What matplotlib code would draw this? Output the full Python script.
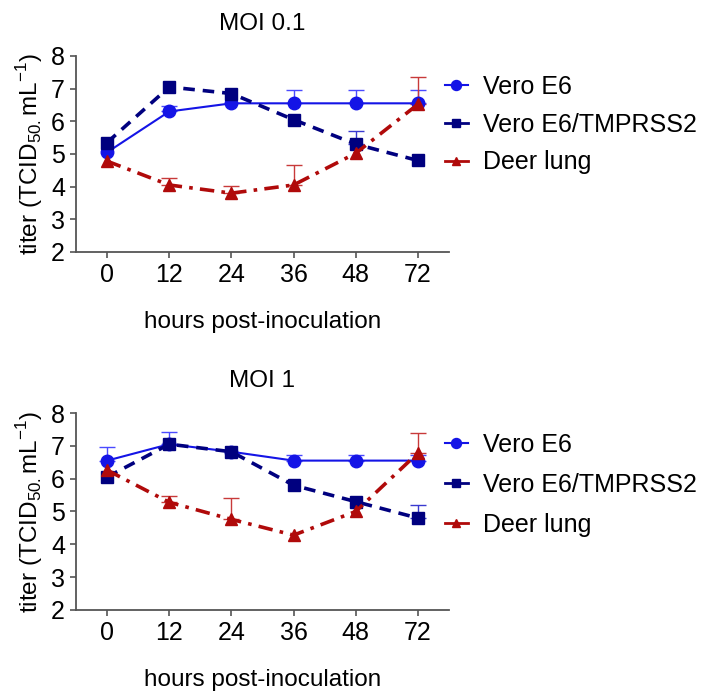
import matplotlib
matplotlib.use("Agg")
import matplotlib.pyplot as plt
from matplotlib.lines import Line2D
import numpy as np

plt.rcParams["font.family"] = ["Liberation Sans", "DejaVu Sans"]
plt.rcParams["mathtext.fontset"] = "custom"
plt.rcParams["mathtext.rm"] = "Liberation Sans"

hours = ["0", "12", "24", "36", "48", "72"]
series_names = ["Vero E6", "Vero E6/TMPRSS2", "Deer lung"]

# MOI 0.1: means and upper error (SD)
moi01_vero = [5.05, 6.30, 6.55, 6.55, 6.55, 6.55]
moi01_vero_err = [0.0, 0.18, 0.0, 0.42, 0.42, 0.42]
moi01_tmprss2 = [5.35, 7.05, 6.85, 6.05, 5.30, 4.80]
moi01_tmprss2_err = [0.0, 0.0, 0.0, 0.0, 0.41, 0.0]
moi01_deer = [4.78, 4.05, 3.80, 4.05, 5.02, 6.52]
moi01_deer_err = [0.0, 0.22, 0.22, 0.62, 0.0, 0.85]

# MOI 1
moi1_vero = [6.55, 7.05, 6.82, 6.55, 6.55, 6.55]
moi1_vero_err = [0.40, 0.38, 0.0, 0.18, 0.18, 0.18]
moi1_tmprss2 = [6.05, 7.05, 6.82, 5.80, 5.30, 4.80]
moi1_tmprss2_err = [0.0, 0.0, 0.0, 0.0, 0.0, 0.40]
moi1_deer = [6.26, 5.28, 4.76, 4.28, 5.00, 6.78]
moi1_deer_err = [0.0, 0.20, 0.64, 0.0, 0.0, 0.62]

styles = [
    dict(color="#1414e6", ecolor="#4a4aff", marker="o", ls="-", lw=1.5, ms=9),
    dict(color="#00007f", ecolor="#3a3ad0", marker="s", ls=(0, (3.2, 2.2)), lw=2.6, ms=8),
    dict(color="#b00a0a", ecolor="#c83a3a", marker="^", ls=(0, (4.0, 2.0, 1.0, 2.0)), lw=2.6, ms=8),
]

fig = plt.figure(figsize=(7.09, 6.96), dpi=100)
panels = [
    ("MOI 0.1", [0.1072, 0.638, 0.526, 0.2816],
     [moi01_vero, moi01_tmprss2, moi01_deer],
     [moi01_vero_err, moi01_tmprss2_err, moi01_deer_err], 0.55, 0.65),
    ("MOI 1", [0.1072, 0.1236, 0.526, 0.283],
     [moi1_vero, moi1_tmprss2, moi1_deer],
     [moi1_vero_err, moi1_tmprss2_err, moi1_deer_err], 0.65, 0.635),
]

x = np.arange(len(hours))
for title, rect, vals, errs, lspace, ly in panels:
    ax = fig.add_axes(rect)
    handles = []
    for name, v, e, st in zip(series_names, vals, errs, styles):
        v = np.array(v)
        e = np.array(e)
        mask = e > 0
        ax.errorbar(x[mask], v[mask], yerr=[np.zeros(mask.sum()), e[mask]],
                    fmt="none", ecolor=st["ecolor"], elinewidth=1.0,
                    capsize=6, capthick=1.0, zorder=2)
        ax.plot(x, v, color=st["color"], marker=st["marker"], ls=st["ls"],
                lw=st["lw"], ms=st["ms"], zorder=3)
        # legend key: short solid stub with marker
        handles.append(Line2D([], [], color=st["color"], marker=st["marker"],
                              ls="-", lw=min(st["lw"], 2.0), ms=st["ms"] * 0.8,
                              label=name))
    ax.set_xlim(-0.5, 5.5)
    ax.set_ylim(2, 8)
    ax.set_xticks(x)
    ax.set_xticklabels(hours)
    ax.set_yticks(range(2, 9))
    for s in ["top", "right"]:
        ax.spines[s].set_visible(False)
    for s in ["left", "bottom"]:
        ax.spines[s].set_color("#555555")
        ax.spines[s].set_linewidth(1.3)
    ax.tick_params(axis="both", direction="out", length=4, width=1.2,
                   color="#555555", labelsize=18, pad=4)
    ax.set_title(title, fontsize=17.5, pad=19)
    ax.set_xlabel("hours post-inoculation", fontsize=17.5, labelpad=17)
    ax.set_ylabel(r"titer (TCID$_{\mathregular{50.}}$mL$^{\mathregular{-1}}$)", fontsize=17.5, labelpad=4)
    ax.legend(handles=handles, loc="center left", bbox_to_anchor=(0.99, ly),
              frameon=False, fontsize=18, handlelength=0.9, handletextpad=0.6,
              labelspacing=lspace, borderpad=0, borderaxespad=0)

fig.savefig("out.png", dpi=100)
